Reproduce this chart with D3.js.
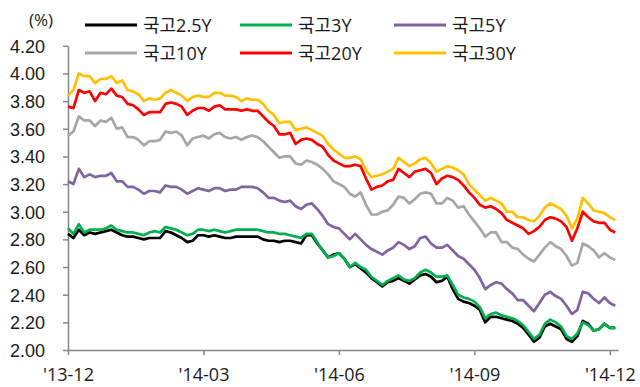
<!DOCTYPE html>
<html>
<head>
<meta charset="utf-8">
<script src="https://cdn.jsdelivr.net/npm/d3@7"></script>
<style>
  html, body { margin: 0; padding: 0; background: #fff; }
  svg { display: block; }
</style>
</head>
<body>
<svg id="chart" width="640" height="387"></svg>
<script>
// Korean treasury bond yields (%), Dec 2013 – Dec 2014, sampled roughly every 2–3 trading days
const xTickIndex = [0, 25, 50, 75, 100];
const xTickLabels = ["'13-12", "'14-03", "'14-06", "'14-09", "'14-12"];
const yTicks = [2.0, 2.2, 2.4, 2.6, 2.8, 3.0, 3.2, 3.4, 3.6, 3.8, 4.0, 4.2];

const seriesNames = ["국고2.5Y", "국고3Y", "국고5Y", "국고10Y", "국고20Y", "국고30Y"];
const seriesColors = ["#000000", "#00B050", "#8064A2", "#A6A6A6", "#FF0000", "#FFC000"];

const y25 = [2.84,2.81,2.87,2.83,2.85,2.84,2.85,2.86,2.87,2.85,
  2.83,2.82,2.82,2.81,2.80,2.81,2.81,2.81,2.86,2.85,
  2.83,2.81,2.78,2.79,2.83,2.83,2.82,2.83,2.82,2.81,
  2.81,2.82,2.82,2.82,2.82,2.82,2.80,2.79,2.79,2.78,
  2.79,2.79,2.78,2.77,2.83,2.83,2.77,2.72,2.67,2.69,
  2.70,2.66,2.60,2.62,2.59,2.56,2.52,2.49,2.46,2.49,
  2.50,2.52,2.50,2.48,2.51,2.54,2.55,2.53,2.49,2.50,
  2.53,2.44,2.37,2.35,2.34,2.32,2.29,2.20,2.24,2.24,
  2.23,2.22,2.21,2.19,2.16,2.11,2.06,2.09,2.17,2.19,
  2.17,2.15,2.08,2.06,2.10,2.21,2.19,2.14,2.15,2.19,
  2.16,2.16];

const y3 = [2.88,2.84,2.91,2.85,2.87,2.87,2.87,2.88,2.90,2.87,
  2.86,2.85,2.85,2.84,2.83,2.85,2.86,2.85,2.89,2.88,
  2.87,2.85,2.83,2.84,2.87,2.87,2.86,2.87,2.86,2.85,
  2.86,2.87,2.87,2.87,2.87,2.87,2.86,2.85,2.85,2.84,
  2.84,2.83,2.82,2.81,2.84,2.84,2.78,2.72,2.67,2.68,
  2.70,2.66,2.60,2.63,2.60,2.58,2.53,2.50,2.47,2.50,
  2.52,2.54,2.51,2.50,2.52,2.56,2.58,2.56,2.53,2.53,
  2.54,2.47,2.40,2.38,2.37,2.35,2.31,2.23,2.26,2.27,
  2.25,2.24,2.23,2.21,2.18,2.13,2.08,2.11,2.19,2.22,
  2.20,2.17,2.10,2.08,2.12,2.20,2.18,2.14,2.15,2.19,
  2.16,2.16];

const y5 = [3.22,3.20,3.31,3.25,3.27,3.25,3.26,3.26,3.28,3.22,
  3.22,3.18,3.18,3.16,3.13,3.15,3.15,3.14,3.19,3.18,
  3.18,3.16,3.13,3.15,3.17,3.16,3.15,3.17,3.17,3.15,
  3.16,3.16,3.18,3.18,3.18,3.17,3.14,3.10,3.10,3.08,
  3.07,3.08,3.04,3.02,3.05,3.06,3.02,2.97,2.91,2.89,
  2.88,2.84,2.80,2.84,2.80,2.76,2.73,2.71,2.69,2.72,
  2.74,2.78,2.76,2.73,2.75,2.81,2.82,2.77,2.74,2.74,
  2.76,2.72,2.68,2.66,2.62,2.58,2.52,2.44,2.47,2.49,
  2.48,2.44,2.41,2.36,2.36,2.32,2.28,2.34,2.40,2.42,
  2.39,2.37,2.32,2.26,2.29,2.42,2.41,2.37,2.34,2.38,
  2.34,2.32];

const y10 = [3.55,3.58,3.69,3.66,3.66,3.62,3.66,3.65,3.68,3.60,
  3.61,3.54,3.54,3.52,3.48,3.51,3.51,3.52,3.58,3.57,
  3.58,3.55,3.48,3.53,3.54,3.55,3.53,3.56,3.57,3.54,
  3.53,3.54,3.52,3.54,3.55,3.54,3.51,3.47,3.43,3.39,
  3.40,3.40,3.35,3.34,3.37,3.36,3.34,3.31,3.27,3.22,
  3.20,3.18,3.13,3.11,3.14,3.05,2.98,2.98,3.00,3.01,
  3.05,3.11,3.10,3.06,3.09,3.13,3.14,3.13,3.06,3.06,
  3.10,3.08,3.03,3.04,2.98,2.93,2.88,2.82,2.85,2.85,
  2.78,2.78,2.74,2.73,2.69,2.66,2.64,2.69,2.74,2.78,
  2.75,2.73,2.68,2.61,2.63,2.77,2.75,2.72,2.67,2.70,
  2.67,2.65];

const y20 = [3.76,3.75,3.88,3.86,3.87,3.80,3.86,3.85,3.89,3.84,
  3.83,3.78,3.77,3.74,3.70,3.72,3.72,3.72,3.78,3.79,
  3.78,3.76,3.70,3.73,3.75,3.75,3.73,3.76,3.77,3.74,
  3.74,3.74,3.73,3.74,3.73,3.73,3.69,3.65,3.62,3.56,
  3.56,3.57,3.49,3.52,3.53,3.52,3.49,3.47,3.41,3.37,
  3.35,3.33,3.33,3.34,3.33,3.24,3.16,3.18,3.19,3.22,
  3.23,3.31,3.28,3.25,3.29,3.30,3.31,3.28,3.20,3.24,
  3.26,3.25,3.23,3.19,3.14,3.10,3.05,3.03,3.04,3.02,
  2.99,2.94,2.92,2.90,2.88,2.84,2.86,2.89,2.94,2.96,
  2.95,2.93,2.89,2.79,2.88,3.00,2.96,2.93,2.92,2.92,
  2.87,2.85];

const y30 = [3.84,3.88,4.00,3.98,3.98,3.93,3.96,3.96,3.98,3.93,
  3.95,3.88,3.87,3.85,3.80,3.82,3.81,3.82,3.86,3.88,
  3.86,3.84,3.80,3.83,3.84,3.83,3.83,3.86,3.86,3.84,
  3.84,3.83,3.80,3.82,3.81,3.81,3.78,3.73,3.70,3.64,
  3.65,3.65,3.59,3.60,3.61,3.59,3.57,3.55,3.49,3.45,
  3.42,3.39,3.39,3.40,3.38,3.30,3.25,3.26,3.27,3.29,
  3.31,3.39,3.36,3.33,3.35,3.38,3.39,3.35,3.29,3.31,
  3.33,3.32,3.30,3.27,3.20,3.16,3.12,3.08,3.10,3.08,
  3.06,3.00,3.00,2.96,2.96,2.94,2.93,2.97,3.03,3.06,
  3.04,3.02,2.97,2.88,2.95,3.10,3.06,3.01,3.00,2.99,
  2.96,2.94];

const seriesValues = [y25, y3, y5, y10, y20, y30];

const svg = d3.select("#chart");
const textColor = "#1a1a1a";
const axisColor = "#868686";

const x = d3.scaleLinear().domain([0, 101.5]).range([68, 618]);
const y = d3.scaleLinear().domain([2.0, 4.2]).range([350, 45.8]);

// y axis
const yAxis = svg.append("g")
  .attr("transform", "translate(68,0)")
  .call(d3.axisLeft(y).tickValues(yTicks).tickFormat(d3.format(".2f")).tickSize(5).tickSizeOuter(0));
yAxis.select(".domain").attr("stroke", axisColor).attr("stroke-width", 1.5);
yAxis.selectAll(".tick line").attr("stroke", axisColor).attr("stroke-width", 1.5);
yAxis.selectAll(".tick text")
  .attr("x", -23).attr("dy", null).attr("y", 6.4)
  .attr("fill", textColor)
  .style("font-family", "'Liberation Sans', Arial, sans-serif")
  .style("font-size", "18px");

// x axis
const xAxis = svg.append("g")
  .attr("transform", "translate(0,350)")
  .call(d3.axisBottom(x).tickValues(xTickIndex)
    .tickFormat((d, i) => xTickLabels[i]).tickSize(5).tickSizeOuter(0));
xAxis.select(".domain").attr("stroke", axisColor).attr("stroke-width", 1.5);
xAxis.selectAll(".tick line").attr("stroke", axisColor).attr("stroke-width", 1.5);
xAxis.selectAll(".tick text")
  .attr("y", 31).attr("dy", null)
  .attr("fill", textColor)
  .style("font-family", "'Open Sans', 'Noto Sans', sans-serif")
  .style("font-size", "18px");

// unit label
svg.append("text")
  .attr("x", 41).attr("y", 26)
  .attr("text-anchor", "middle")
  .attr("fill", textColor)
  .style("font-family", "'Open Sans', 'Noto Sans', sans-serif")
  .style("font-size", "17px")
  .text("(%)");

// series lines
const line = d3.line()
  .x((d, i) => x(i))
  .y(d => y(d));

svg.append("g")
  .selectAll("path")
  .data(seriesValues)
  .join("path")
  .attr("d", d => line(d))
  .attr("fill", "none")
  .attr("stroke", (d, i) => seriesColors[i])
  .attr("stroke-width", 2.7)
  .attr("stroke-linejoin", "round");

// legend: two rows of three
const legendCols = [85, 240, 394];
const legendRows = [25, 53];
const legend = svg.append("g")
  .selectAll("g")
  .data(seriesNames)
  .join("g")
  .attr("transform", (d, i) => `translate(${legendCols[i % 3]},${legendRows[Math.floor(i / 3)]})`);
legend.append("line")
  .attr("x1", 0).attr("x2", 52)
  .attr("stroke", (d, i) => seriesColors[i])
  .attr("stroke-width", 3);
legend.append("text")
  .attr("x", 58).attr("y", 7)
  .attr("fill", textColor)
  .style("font-family", "'Open Sans', 'Noto Sans CJK KR', sans-serif")
  .style("font-size", "18px")
  .text(d => d);
</script>
</body>
</html>
